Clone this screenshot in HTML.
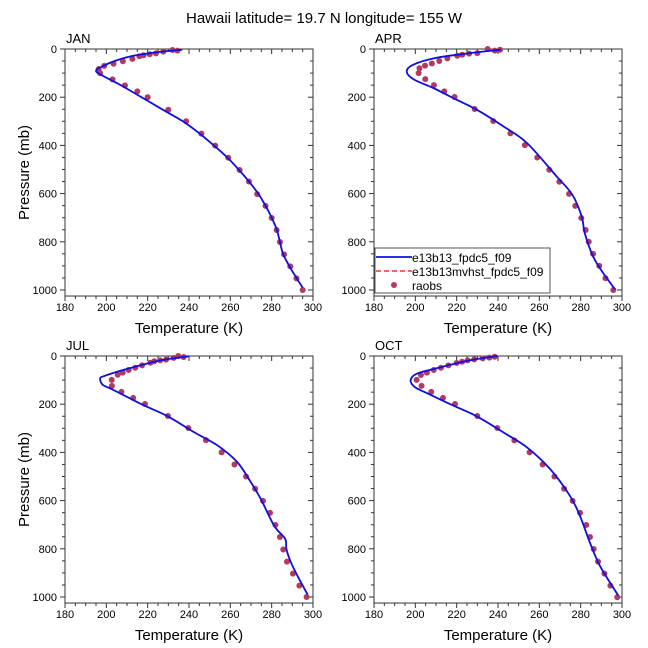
<!DOCTYPE html>
<html><head><meta charset="utf-8"><style>
body{margin:0;background:#fff;}
svg{display:block;font-family:"Liberation Sans",sans-serif;}
</style></head><body>
<svg id="c" width="648" height="648" viewBox="0 0 648 648">
<text x="324" y="23" text-anchor="middle" font-size="15">Hawaii  latitude= 19.7 N longitude= 155 W</text>
</svg>
<script>
const months=["JAN","APR","JUL","OCT"];
const xTicks=[180,200,220,240,260,280,300];
const yTicks=[0,200,400,600,800,1000];
// observations (pressure mb, temperature K)
const janObsP=[7,4,11,18,22,26,30,41,51,61,70,83,100,126,151,176,200,252,300,351,401,451,502,550,602,651,701,751,801,852,902,952,1000];
const janObsT=[234.4,232,227.6,224,221,218,216,212.6,208,203.5,199,196.3,197,203,209,215,220,230,238.6,246,252.7,259,264.5,269,273,277,280,282.4,284,286,289,292,295];
const aprObsP=[3,7,0,17,19,24,28,39,50,60,69,80,100,125,150,176,199,249,299,350,399,450,501,551,601,651,701,751,800,850,900,951,1000];
const aprObsT=[241,238.5,235,230,226,222.7,220.3,215.5,211.6,208,204.7,202,201.6,204.8,209,214,219,228.7,237.7,246,253,259,264.8,269.7,274.4,277.4,280.3,282.4,283.9,286,289,292,295.8];
const julObsP=[4,0,8,15,18,22,28,39,49,58,69,78,99,124,149,174,199,249,299,349,400,450,500,551,601,651,701,751,803,853,903,953,1000];
const julObsT=[237.4,234.8,232.6,228.9,226,223.2,221.3,217.3,214,210.8,207.9,205.5,202.6,202.7,207.3,213,218.7,229.8,239.7,248.2,255.8,262,267.6,272,275.8,279.2,281.8,284,285.6,287.4,290.3,293.4,296.9];
const octObsP=[3,7,10,14,18,24,29,39,49,58,69,79,99,124,149,174,199,249,299,350,400,450,500,551,601,651,701,751,801,853,903,953,1001];
const octObsT=[238.4,235.8,232.6,228.5,225.3,222.6,220,216,212.4,208.9,205.6,202.7,200.6,203,207.7,213.4,219.2,230,239.7,247.9,255.3,261.6,267.3,272,276.1,279.7,282.7,284.5,286.3,288.4,291.5,294.4,297.7];
// model profiles
const janModP=[3,10,20,30,50,70,90,110,150,200,250,300,350,400,450,500,550,600,650,700,750,800,850,900,950,990];
const janModT=[236.7,228,219,212,204,198.5,195,198,207,217,227,237,245,252,258.5,264,269,273.5,277,280,282.5,284,285.5,288.5,292,295];
const aprModP=[3,17,37,65,93,125,162,204,252,321,390,529,605,695,765,861,931,997];
const aprModT=[241.5,226.5,210,199,195.8,199,208.7,218.4,229.7,242.6,254,268.4,276,280.5,282,286,291,296.6];
const julModP=[1,18,53,83,94,119,136,171,206,250,317,372,442,525,594,706,758,803,858,914,990];
const julModT=[240.2,226.5,210.3,199,197,198.2,202.3,210.3,218.4,229.7,242.6,254,263.5,270,274.8,281.3,286.5,287.2,289.4,292.6,297.4];
const octModP=[0,18,51,74,101,129,157,206,250,317,379,469,580,664,775,872,994];
const octModT=[239.7,226.5,210.3,200.6,197.7,199.8,206.3,218.4,229.7,242.6,254,265.2,274.8,279.7,284.5,289.4,298.2];

const panels=[
 {x0:65,y0:49,obsP:janObsP,obsT:janObsT,modP:janModP,modT:janModT,ylab:true},
 {x0:374,y0:49,obsP:aprObsP,obsT:aprObsT,modP:aprModP,modT:aprModT,ylab:false,legend:true},
 {x0:65,y0:356,obsP:julObsP,obsT:julObsT,modP:julModP,modT:julModT,ylab:true},
 {x0:374,y0:356,obsP:octObsP,obsT:octObsT,modP:octModP,modT:octModT,ylab:false}
];
const NS="http://www.w3.org/2000/svg";
const svg=document.getElementById('c');
function mk(tag,attrs,parent,text){const e=document.createElementNS(NS,tag);for(const k in attrs)e.setAttribute(k,attrs[k]);if(text!==undefined)e.textContent=text;(parent||svg).appendChild(e);return e;}
function smooth(P){let d='M'+P[0][0].toFixed(1)+','+P[0][1].toFixed(1);
 for(let i=0;i<P.length-1;i++){const p0=P[Math.max(0,i-1)],p1=P[i],p2=P[i+1],p3=P[Math.min(P.length-1,i+2)];
  const c1=[p1[0]+(p2[0]-p0[0])/6,p1[1]+(p2[1]-p0[1])/6],c2=[p2[0]-(p3[0]-p1[0])/6,p2[1]-(p3[1]-p1[1])/6];
  d+=`C${c1[0].toFixed(1)},${c1[1].toFixed(1)} ${c2[0].toFixed(1)},${c2[1].toFixed(1)} ${p2[0].toFixed(1)},${p2[1].toFixed(1)}`;}
 return d;}
const W=248,PS=0.241,PMAX=1025;
panels.forEach((pn,i)=>{
 const xs=t=>pn.x0+(t-180)/120*W;
 const ys=p=>pn.y0+p*PS;
 const g=mk('g',{});
 
 
 const bot=ys(PMAX);
 const fr=mk('rect',{x:pn.x0,y:pn.y0,width:W,height:bot-pn.y0,fill:'none',stroke:'#333','stroke-width':1},g);
 
 
 const lab=mk('text',{x:pn.x0+1,y:pn.y0-6,'font-size':13},g,months[i]);
 
 
 for(let t=180;t<=300;t+=5){const maj=t%20===0,L=maj?5:3,x=xs(t);
  mk('line',{x1:x,x2:x,y1:bot,y2:bot+L,stroke:'#333'},g);
  mk('line',{x1:x,x2:x,y1:pn.y0,y2:pn.y0+L,stroke:'#333'},g);}
 xTicks.forEach(t=>{const tx=mk('text',{x:xs(t),y:bot+15,'font-size':11,'text-anchor':'middle'},g,t);
  
  });
 for(let p=0;p<=1000;p+=50){const maj=p%200===0,L=maj?5:3,y=ys(p);
  mk('line',{x1:pn.x0-L,x2:pn.x0,y1:y,y2:y,stroke:'#333'},g);
  mk('line',{x1:pn.x0+W-L,x2:pn.x0+W,y1:y,y2:y,stroke:'#333'},g);}
 yTicks.forEach(p=>{const tx=mk('text',{x:pn.x0-8,y:ys(p)+4,'font-size':11,'text-anchor':'end'},g,p);
  
  });
 const xt=mk('text',{x:pn.x0+W/2,y:bot+37,'font-size':15,'text-anchor':'middle'},g,'Temperature (K)');
 
 
 if(pn.ylab){const yt=mk('text',{x:0,y:0,'font-size':15,'text-anchor':'middle',transform:`translate(29,${(pn.y0+bot)/2}) rotate(-90)`},g,'Pressure (mb)');
  
  }
 const P=pn.modP.map((p,j)=>[xs(pn.modT[j]),ys(p)]);
 const d=smooth(P);
 const red=mk('path',{d:d,fill:'none',stroke:'#f03030','stroke-width':1.5,'stroke-dasharray':'5,3'},g);
 
 
 pn.obsP.forEach((p,j)=>{const c=mk('circle',{cx:xs(pn.obsT[j]),cy:ys(p),r:3,fill:'#b03a60'},g);
  
  });
 const blue=mk('path',{d:d,fill:'none',stroke:'#1010e0','stroke-width':1.8},g);
 
 
 if(pn.legend){
  const lg=mk('g',{},g);
  
  
  mk('rect',{x:375,y:248,width:175,height:45,fill:'#fff',stroke:'#555'},lg);
  mk('line',{x1:376,x2:412,y1:257,y2:257,stroke:'#1010e0','stroke-width':1.8},lg);
  mk('line',{x1:376,x2:412,y1:271,y2:271,stroke:'#f03030','stroke-width':1.5,'stroke-dasharray':'5,3'},lg);
  mk('circle',{cx:394,cy:285,r:3,fill:'#b03a60'},lg);
  const l1=mk('text',{x:412,y:262,'font-size':12},lg,'e13b13_fpdc5_f09');
  
  
  const l2=mk('text',{x:412,y:276,'font-size':12},lg,'e13b13mvhst_fpdc5_f09');
  
  
  const l3=mk('text',{x:412,y:290,'font-size':12},lg,'raobs');
  
  
 }
});
</script>
</body></html>
